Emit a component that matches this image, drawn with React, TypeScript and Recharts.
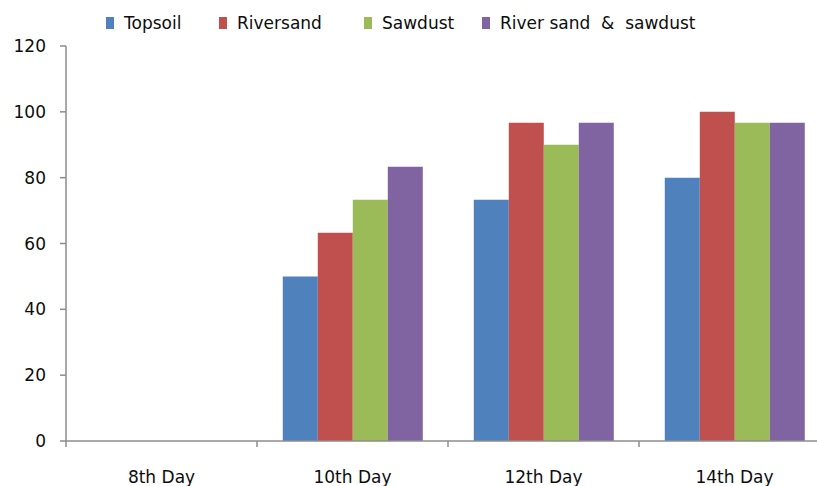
import { BarChart, Bar, XAxis, YAxis } from 'recharts';

const days = ['8th Day', '10th Day', '12th Day', '14th Day'];
const topsoil = [0, 50, 73.3, 80];
const riversand = [0, 63.3, 96.7, 100];
const sawdust = [0, 73.3, 90, 96.7];
const riverSawdust = [0, 83.3, 96.7, 96.7];
const yTicks = [0, 20, 40, 60, 80, 100, 120];

const series = [
  { key: 'topsoil', name: 'Topsoil', color: '#4F81BD' },
  { key: 'riversand', name: 'Riversand', color: '#C0504D' },
  { key: 'sawdust', name: 'Sawdust', color: '#9BBB59' },
  { key: 'riverSawdust', name: 'River sand  &  sawdust', color: '#8064A2' },
];

// legend item left offsets (layout only)
const legendX = [106, 219, 364, 482];

const data = days.map((day, i) => ({
  day,
  topsoil: topsoil[i],
  riversand: riversand[i],
  sawdust: sawdust[i],
  riverSawdust: riverSawdust[i],
}));

const FONT = '"DejaVu Sans", Verdana, sans-serif';
const AXIS = '#8c8c8c';
const TEXT = '#0d0d0d';

function DayTick(props: any) {
  const { x, y, payload, index, visibleTicksCount } = props;
  const half = payload?.offset || 95.5;
  const last = index === (visibleTicksCount ?? days.length) - 1;
  return (
    <g>
      <line x1={x - half} x2={x - half} y1={y} y2={y + 6} stroke={AXIS} strokeWidth={1.5} />
      {last && <line x1={x + half} x2={x + half} y1={y} y2={y + 6} stroke={AXIS} strokeWidth={1.5} />}
      <text x={x} y={y + 42} textAnchor="middle" fontFamily={FONT} fontSize={17} fill={TEXT}>
        {payload.value}
      </text>
    </g>
  );
}

export default function App() {
  return (
    <div
      style={{
        position: 'absolute',
        left: 0,
        top: 0,
        width: 817,
        height: 486,
        overflow: 'hidden',
        background: '#fff',
        fontFamily: FONT,
      }}
    >
      {series.map((s, i) => (
        <div
          key={s.key}
          style={{
            position: 'absolute',
            left: legendX[i],
            top: 13,
            display: 'flex',
            alignItems: 'center',
            fontSize: 17,
            color: TEXT,
            whiteSpace: 'pre',
          }}
        >
          <span style={{ display: 'inline-block', width: 8, height: 12, background: s.color, marginRight: 10 }} />
          <span>{s.name}</span>
        </div>
      ))}
      <BarChart
        width={840}
        height={486}
        data={data}
        margin={{ top: 46, right: 10, left: 0, bottom: 0 }}
        barCategoryGap="13.5%"
        barGap={0}
      >
        <XAxis
          dataKey="day"
          height={45}
          interval={0}
          tickSize={0}
          tickMargin={0}
          tickLine={false}
          axisLine={{ stroke: AXIS, strokeWidth: 1.5 }}
          tick={<DayTick />}
        />
        <YAxis
          width={66}
          domain={[0, 120]}
          ticks={yTicks}
          interval={0}
          tickSize={6}
          tickMargin={14}
          axisLine={{ stroke: AXIS, strokeWidth: 1.5 }}
          tickLine={{ stroke: AXIS, strokeWidth: 1.5 }}
          tick={{ fontFamily: FONT, fontSize: 17, fill: TEXT }}
        />
        {series.map((s) => (
          <Bar key={s.key} dataKey={s.key} name={s.name} fill={s.color} isAnimationActive={false} />
        ))}
      </BarChart>
    </div>
  );
}
